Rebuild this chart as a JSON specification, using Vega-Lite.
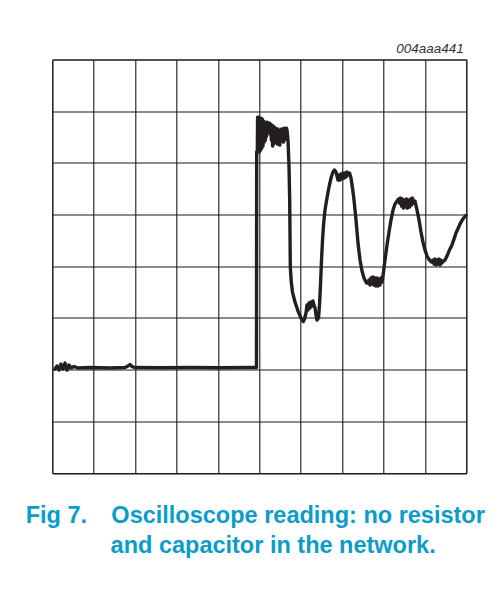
{
  "$schema": "https://vega.github.io/schema/vega-lite/v6.json",
  "width": 414,
  "height": 413.5,
  "autosize": {"type": "none"},
  "padding": {"left": 52.3, "top": 59.5, "right": 37.7, "bottom": 121},
  "background": "white",
  "config": {"view": {"stroke": "#1a1a1a", "strokeWidth": 1}},
  "title": {
    "text": ["Fig 7.\u00a0\u00a0\u00a0\u2009Oscilloscope reading: no resistor", "\u200b\u00a0\u00a0\u00a0\u00a0\u00a0\u00a0\u00a0\u00a0\u00a0\u00a0\u00a0\u00a0\u00a0and capacitor in the network."],
    "orient": "bottom",
    "anchor": "start",
    "dx": -26.6,
    "offset": 50.3,
    "baseline": "alphabetic",
    "font": "Liberation Sans",
    "fontSize": 23.5,
    "fontWeight": "bold",
    "color": "#0a9ccb",
    "lineHeight": 30
  },
  "data": {"values": [
    {"t": 0.065, "u": 2.012}, {"t": 0.114, "u": 2.070}, {"t": 0.162, "u": 1.992}, {"t": 0.210, "u": 2.108},
    {"t": 0.258, "u": 2.012}, {"t": 0.307, "u": 2.128}, {"t": 0.355, "u": 1.992}, {"t": 0.403, "u": 2.089},
    {"t": 0.452, "u": 2.031}, {"t": 0.524, "u": 2.060}, {"t": 0.621, "u": 2.031}, {"t": 0.911, "u": 2.041},
    {"t": 1.394, "u": 2.031}, {"t": 1.756, "u": 2.041}, {"t": 1.829, "u": 2.070}, {"t": 1.877, "u": 2.099},
    {"t": 1.925, "u": 2.060}, {"t": 1.998, "u": 2.041}, {"t": 2.601, "u": 2.035}, {"t": 3.326, "u": 2.041},
    {"t": 4.051, "u": 2.035}, {"t": 4.775, "u": 2.041}, {"t": 4.932, "u": 2.041}, {"t": 4.937, "u": 6.215},
    {"t": 4.952, "u": 6.209}, {"t": 4.959, "u": 6.886}, {"t": 4.973, "u": 6.247}, {"t": 4.988, "u": 6.886},
    {"t": 5.002, "u": 6.209}, {"t": 5.017, "u": 6.866}, {"t": 5.031, "u": 6.247}, {"t": 5.046, "u": 6.866},
    {"t": 5.060, "u": 6.286}, {"t": 5.075, "u": 6.847}, {"t": 5.089, "u": 6.325}, {"t": 5.104, "u": 6.808},
    {"t": 5.118, "u": 6.402}, {"t": 5.133, "u": 6.789}, {"t": 5.147, "u": 6.441}, {"t": 5.162, "u": 6.789},
    {"t": 5.176, "u": 6.518}, {"t": 5.191, "u": 6.789}, {"t": 5.205, "u": 6.596}, {"t": 5.220, "u": 6.770},
    {"t": 5.234, "u": 6.596}, {"t": 5.249, "u": 6.770}, {"t": 5.263, "u": 6.557}, {"t": 5.278, "u": 6.750},
    {"t": 5.292, "u": 6.441}, {"t": 5.307, "u": 6.731}, {"t": 5.321, "u": 6.325}, {"t": 5.336, "u": 6.712},
    {"t": 5.350, "u": 6.364}, {"t": 5.365, "u": 6.692}, {"t": 5.379, "u": 6.441}, {"t": 5.394, "u": 6.673},
    {"t": 5.408, "u": 6.402}, {"t": 5.423, "u": 6.654}, {"t": 5.437, "u": 6.364}, {"t": 5.452, "u": 6.654},
    {"t": 5.466, "u": 6.383}, {"t": 5.481, "u": 6.634}, {"t": 5.495, "u": 6.344}, {"t": 5.510, "u": 6.634},
    {"t": 5.524, "u": 6.422}, {"t": 5.539, "u": 6.654}, {"t": 5.553, "u": 6.441}, {"t": 5.568, "u": 6.654},
    {"t": 5.582, "u": 6.402}, {"t": 5.597, "u": 6.673}, {"t": 5.611, "u": 6.441}, {"t": 5.626, "u": 6.673},
    {"t": 5.640, "u": 6.557}, {"t": 5.655, "u": 6.673},
    {"t": 5.669, "u": 6.634}, {"t": 5.693, "u": 6.441}, {"t": 5.717, "u": 5.957}, {"t": 5.734, "u": 5.280},
    {"t": 5.742, "u": 4.603}, {"t": 5.749, "u": 3.984}, {"t": 5.773, "u": 3.694}, {"t": 5.802, "u": 3.501},
    {"t": 5.862, "u": 3.307}, {"t": 5.935, "u": 3.133}, {"t": 6.007, "u": 2.998}, {"t": 6.063, "u": 2.930},
    {"t": 6.092, "u": 2.979}, {"t": 6.128, "u": 3.095}, {"t": 6.152, "u": 3.249}, {"t": 6.176, "u": 3.153},
    {"t": 6.201, "u": 3.288}, {"t": 6.225, "u": 3.191}, {"t": 6.249, "u": 3.307}, {"t": 6.273, "u": 3.230},
    {"t": 6.297, "u": 3.327}, {"t": 6.321, "u": 3.249}, {"t": 6.346, "u": 3.191}, {"t": 6.370, "u": 3.056},
    {"t": 6.394, "u": 2.959}, {"t": 6.430, "u": 2.998}, {"t": 6.454, "u": 3.249}, {"t": 6.478, "u": 3.636},
    {"t": 6.503, "u": 4.120}, {"t": 6.527, "u": 4.507}, {"t": 6.551, "u": 4.797}, {"t": 6.587, "u": 5.087},
    {"t": 6.635, "u": 5.319}, {"t": 6.684, "u": 5.532}, {"t": 6.732, "u": 5.706}, {"t": 6.780, "u": 5.822},
    {"t": 6.816, "u": 5.861}, {"t": 6.853, "u": 5.822}, {"t": 6.901, "u": 5.667}, {"t": 6.925, "u": 5.764},
    {"t": 6.949, "u": 5.667}, {"t": 6.973, "u": 5.783}, {"t": 6.998, "u": 5.687}, {"t": 7.022, "u": 5.803},
    {"t": 7.046, "u": 5.706}, {"t": 7.070, "u": 5.803}, {"t": 7.094, "u": 5.725}, {"t": 7.118, "u": 5.822},
    {"t": 7.143, "u": 5.764}, {"t": 7.179, "u": 5.803}, {"t": 7.215, "u": 5.706}, {"t": 7.251, "u": 5.512},
    {"t": 7.288, "u": 5.280}, {"t": 7.336, "u": 4.894}, {"t": 7.384, "u": 4.449}, {"t": 7.433, "u": 4.120},
    {"t": 7.481, "u": 3.907}, {"t": 7.529, "u": 3.772}, {"t": 7.590, "u": 3.675}, {"t": 7.626, "u": 3.675},
    {"t": 7.650, "u": 3.733}, {"t": 7.674, "u": 3.636}, {"t": 7.698, "u": 3.772}, {"t": 7.723, "u": 3.656},
    {"t": 7.747, "u": 3.791}, {"t": 7.771, "u": 3.636}, {"t": 7.795, "u": 3.772}, {"t": 7.819, "u": 3.617},
    {"t": 7.843, "u": 3.772}, {"t": 7.867, "u": 3.617}, {"t": 7.892, "u": 3.752}, {"t": 7.916, "u": 3.636},
    {"t": 7.940, "u": 3.772}, {"t": 7.964, "u": 3.694}, {"t": 8.000, "u": 3.888}, {"t": 8.036, "u": 4.120},
    {"t": 8.085, "u": 4.410}, {"t": 8.133, "u": 4.661}, {"t": 8.181, "u": 4.894}, {"t": 8.230, "u": 5.087},
    {"t": 8.278, "u": 5.203}, {"t": 8.326, "u": 5.261}, {"t": 8.362, "u": 5.300}, {"t": 8.387, "u": 5.222},
    {"t": 8.411, "u": 5.319}, {"t": 8.435, "u": 5.164}, {"t": 8.459, "u": 5.300}, {"t": 8.483, "u": 5.126},
    {"t": 8.507, "u": 5.280}, {"t": 8.532, "u": 5.145}, {"t": 8.556, "u": 5.300}, {"t": 8.580, "u": 5.126},
    {"t": 8.604, "u": 5.280}, {"t": 8.628, "u": 5.145}, {"t": 8.652, "u": 5.300}, {"t": 8.677, "u": 5.184},
    {"t": 8.701, "u": 5.319}, {"t": 8.725, "u": 5.222}, {"t": 8.761, "u": 5.261}, {"t": 8.810, "u": 5.087},
    {"t": 8.858, "u": 4.894}, {"t": 8.906, "u": 4.661}, {"t": 8.954, "u": 4.468}, {"t": 9.003, "u": 4.313},
    {"t": 9.051, "u": 4.197}, {"t": 9.111, "u": 4.120}, {"t": 9.160, "u": 4.081}, {"t": 9.196, "u": 4.120},
    {"t": 9.220, "u": 4.042}, {"t": 9.244, "u": 4.139}, {"t": 9.268, "u": 4.023}, {"t": 9.293, "u": 4.120},
    {"t": 9.317, "u": 4.042}, {"t": 9.341, "u": 4.139}, {"t": 9.365, "u": 4.023}, {"t": 9.389, "u": 4.120},
    {"t": 9.413, "u": 4.062}, {"t": 9.449, "u": 4.100}, {"t": 9.486, "u": 4.120}, {"t": 9.534, "u": 4.197},
    {"t": 9.582, "u": 4.294}, {"t": 9.643, "u": 4.391}, {"t": 9.703, "u": 4.526}, {"t": 9.751, "u": 4.642},
    {"t": 9.807, "u": 4.739}, {"t": 9.860, "u": 4.836}, {"t": 9.908, "u": 4.903}, {"t": 9.957, "u": 4.952},
    {"t": 9.993, "u": 4.981}
  ]},
  "mark": {"type": "line", "color": "#231f20", "strokeWidth": 3.4, "strokeJoin": "round", "strokeCap": "round"},
  "encoding": {
    "x": {
      "field": "t", "type": "quantitative",
      "scale": {"domain": [0, 10], "nice": false, "zero": false},
      "axis": {
        "orient": "top", "values": [0, 1, 2, 3, 4, 5, 6, 7, 8, 9, 10],
        "grid": true, "gridColor": "#1a1a1a", "gridOpacity": 1, "gridWidth": 1.1,
        "labels": false, "ticks": false, "domain": false,
        "title": "004aaa441", "titleX": 411, "titleY": -7.3, "titleAlign": "right",
        "titleBaseline": "alphabetic", "titleFont": "Liberation Sans", "titleFontSize": 13.5,
        "titleFontStyle": "italic", "titleFontWeight": "normal", "titleColor": "#333333"
      }
    },
    "y": {
      "field": "u", "type": "quantitative",
      "scale": {"domain": [0, 8], "nice": false, "zero": false},
      "axis": {
        "values": [0, 1, 2, 3, 4, 5, 6, 7, 8],
        "grid": true, "gridColor": "#1a1a1a", "gridOpacity": 1, "gridWidth": 1.1,
        "labels": false, "ticks": false, "domain": false, "title": null
      }
    },
    "order": {"value": null}
  }
}
